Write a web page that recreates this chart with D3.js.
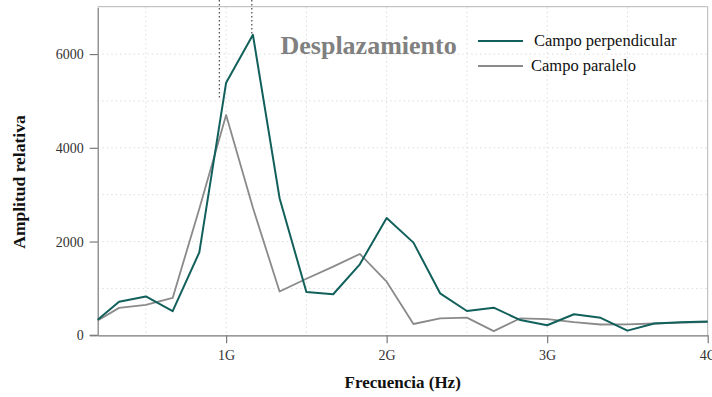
<!DOCTYPE html>
<html><head><meta charset="utf-8">
<script src="https://cdn.jsdelivr.net/npm/d3@7"></script>
<style>
html,body{margin:0;padding:0;background:#fff;}
svg{display:block;font-family:"Liberation Serif","Times New Roman",serif;}
</style></head>
<body><svg id="chart" width="712" height="397"></svg>
<script>
const freqs = [0.2, 0.333, 0.5, 0.667, 0.833, 1.0, 1.167, 1.333, 1.5, 1.667, 1.833, 2.0, 2.167, 2.333, 2.5, 2.667, 2.833, 3.0, 3.167, 3.333, 3.5, 3.667, 3.833, 4.0];
const perpendicular = [330, 717, 830, 515, 1770, 5390, 6410, 2925, 922, 875, 1515, 2504, 1977, 896, 519, 589, 325, 215, 450, 372, 100, 252, 280, 295];
const paralelo = [315, 585, 647, 796, 2700, 4700, 2720, 935, 1206, 1465, 1735, 1144, 241, 363, 376, 90, 363, 345, 280, 230, 232, 252, 269, 284];
const xTicks = [1, 2, 3, 4];
const xTickLabels = ["1G", "2G", "3G", "4G"];
const yTicks = [0, 2000, 4000, 6000];
const xGrid = [0.5, 1, 1.5, 2, 2.5, 3, 3.5];
const yGrid = [1000, 2000, 3000, 4000, 5000, 6000];
const markerFreqs = [0.958, 1.16];
const markerValues = [5020, 6410];
const seriesNames = ["Campo perpendicular", "Campo paralelo"];
const seriesColors = ["#12605b", "#8a8a8a"];
const titleText = "Desplazamiento";

const svg = d3.select("#chart");
const L = 97.7, R = 707.7, T = 7.2, B = 335.3;
const x = d3.scaleLinear().domain([0.2, 4.0]).range([L, R]);
const y = d3.scaleLinear().domain([0, 7000]).range([B, T]);

// grid
svg.append("g").selectAll("line").data(xGrid).join("line")
  .attr("x1", d => x(d)).attr("x2", d => x(d)).attr("y1", T).attr("y2", B)
  .attr("stroke", "#dcdcdc").attr("stroke-width", 1).attr("stroke-dasharray", "1.5,3");
svg.append("g").selectAll("line").data(yGrid).join("line")
  .attr("x1", L).attr("x2", R).attr("y1", d => y(d)).attr("y2", d => y(d))
  .attr("stroke", "#dcdcdc").attr("stroke-width", 1).attr("stroke-dasharray", "1.5,3");

// frame top/right
svg.append("line").attr("x1", L).attr("x2", R).attr("y1", T - 0.5).attr("y2", T - 0.5).attr("stroke", "#b5b5b5");
svg.append("line").attr("x1", R).attr("x2", R).attr("y1", T - 0.5).attr("y2", B).attr("stroke", "#b5b5b5");

// axes
const xAxis = d3.axisBottom(x).tickValues(xTicks).tickFormat((d, i) => xTickLabels[i]).tickSize(8).tickSizeOuter(0);
const gx = svg.append("g").attr("transform", `translate(0,${B})`).call(xAxis);
const yAxis = d3.axisLeft(y).tickValues(yTicks).tickFormat(d3.format("d")).tickSize(8).tickSizeOuter(0);
const gy = svg.append("g").attr("transform", `translate(${L},0)`).call(yAxis);
[gx, gy].forEach(g => {
  g.select(".domain").attr("stroke", "#7a7a7a").attr("stroke-width", 1.2);
  g.selectAll(".tick line").attr("stroke", "#7a7a7a").attr("stroke-width", 1.2);
  g.selectAll("text").attr("font-family", "Liberation Serif, serif").attr("font-size", 14).attr("fill", "#333");
});
gx.selectAll("text").attr("dy", null).attr("y", 25);
gy.selectAll("text").attr("x", -14);
// extend bottom axis slightly left to meet zero tick
svg.append("line").attr("x1", L - 8).attr("x2", L).attr("y1", B).attr("y2", B).attr("stroke", "#7a7a7a").attr("stroke-width", 1.2);

// marker dotted lines
svg.append("g").selectAll("line").data(markerFreqs).join("line")
  .attr("x1", d => x(d)).attr("x2", d => x(d)).attr("y1", 0).attr("y2", (d, i) => y(markerValues[i]))
  .attr("stroke", "#555").attr("stroke-width", 1.3).attr("stroke-dasharray", "1.5,2.5");

// lines
const line = d3.line().x((d, i) => x(freqs[i])).y(d => y(d));
svg.append("path").datum(paralelo).attr("d", line).attr("fill", "none")
  .attr("stroke", seriesColors[1]).attr("stroke-width", 1.8).attr("stroke-linejoin", "round");
svg.append("path").datum(perpendicular).attr("d", line).attr("fill", "none")
  .attr("stroke", seriesColors[0]).attr("stroke-width", 2).attr("stroke-linejoin", "round");

// title
svg.append("text").attr("x", 280.5).attr("y", 53.5).text(titleText)
  .attr("font-family", "Liberation Serif, serif").attr("font-weight", "bold")
  .attr("font-size", 26).attr("fill", "#808080");

// legend
const legY = [41, 66];
const legTX = [534, 531];
seriesNames.forEach((n, i) => {
  svg.append("line").attr("x1", 478).attr("x2", 523).attr("y1", legY[i]).attr("y2", legY[i])
    .attr("stroke", seriesColors[i]).attr("stroke-width", 2);
  svg.append("text").attr("x", legTX[i]).attr("y", legY[i] + 4.5).text(n)
    .attr("font-family", "Liberation Serif, serif").attr("font-size", 16.5).attr("fill", "#111");
});

// axis titles
svg.append("text").attr("x", (L + R) / 2).attr("y", 388).attr("text-anchor", "middle")
  .text("Frecuencia (Hz)").attr("font-family", "Liberation Serif, serif")
  .attr("font-weight", "bold").attr("font-size", 17).attr("fill", "#111");
svg.append("text").attr("transform", "translate(25,182) rotate(-90)").attr("text-anchor", "middle")
  .text("Amplitud relativa").attr("font-family", "Liberation Serif, serif")
  .attr("font-weight", "bold").attr("font-size", 17.5).attr("fill", "#111");
</script></body></html>
